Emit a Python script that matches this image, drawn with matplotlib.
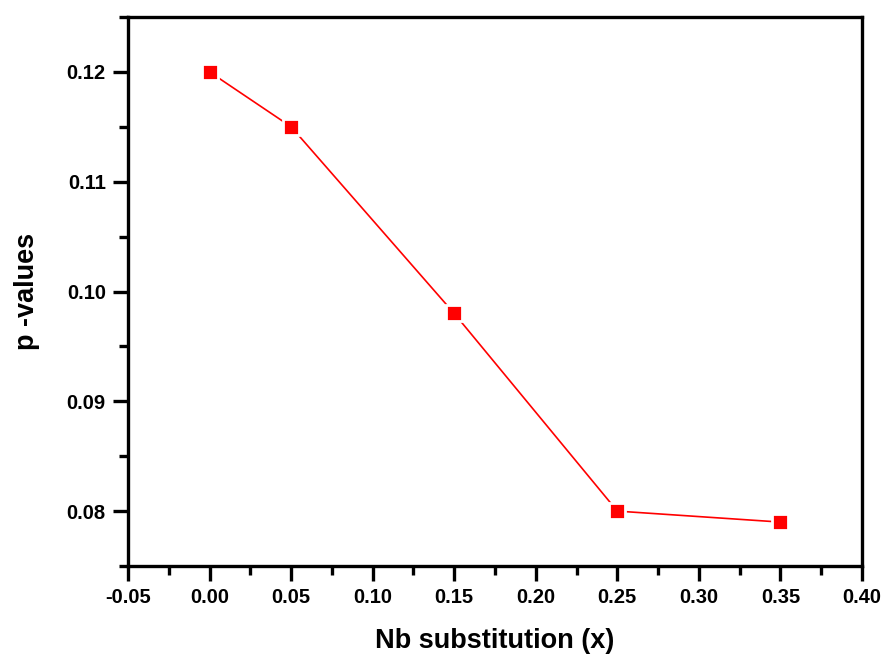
import numpy as np
import matplotlib.pyplot as plt
from matplotlib.ticker import MultipleLocator

plt.rcParams['font.family'] = ['Liberation Sans', 'DejaVu Sans']
plt.rcParams['font.weight'] = 'bold'

# Nb content and fitted p values
nb_x = [0.00, 0.05, 0.15, 0.25, 0.35]
p_vals = [0.120, 0.115, 0.098, 0.080, 0.079]

fig = plt.figure(figsize=(8.88, 6.59), dpi=100)
ax = fig.add_axes([128/888, 1 - 566/659, (862 - 128)/888, (566 - 17)/659])

ax.plot(nb_x, p_vals, color='red', lw=1.2, marker='s', ms=12,
        mfc='red', mec='white', mew=2)

ax.set_xlim(-0.05, 0.40)
ax.set_ylim(0.075, 0.125)
ax.xaxis.set_major_locator(MultipleLocator(0.05))
ax.xaxis.set_minor_locator(MultipleLocator(0.025))
ax.yaxis.set_major_locator(MultipleLocator(0.01))
ax.yaxis.set_minor_locator(MultipleLocator(0.005))
ax.xaxis.set_major_formatter(plt.FormatStrFormatter('%.2f'))
ax.yaxis.set_major_formatter(plt.FormatStrFormatter('%.2f'))

for s in ax.spines.values():
    s.set_linewidth(2.4)
ax.tick_params(which='major', direction='out', length=11, width=2.4,
               labelsize=14.5, pad=5)
ax.tick_params(which='minor', direction='out', length=6.5, width=2.4)
ax.tick_params(top=False, right=False)
for lbl in ax.get_xticklabels() + ax.get_yticklabels():
    lbl.set_fontweight('bold')

ax.set_xlabel('Nb substitution (x)', fontsize=19.5, fontweight='bold', labelpad=15)
ax.set_ylabel('p -values', fontsize=19.5, fontweight='bold', labelpad=19)

fig.savefig('out.png', dpi=100)
